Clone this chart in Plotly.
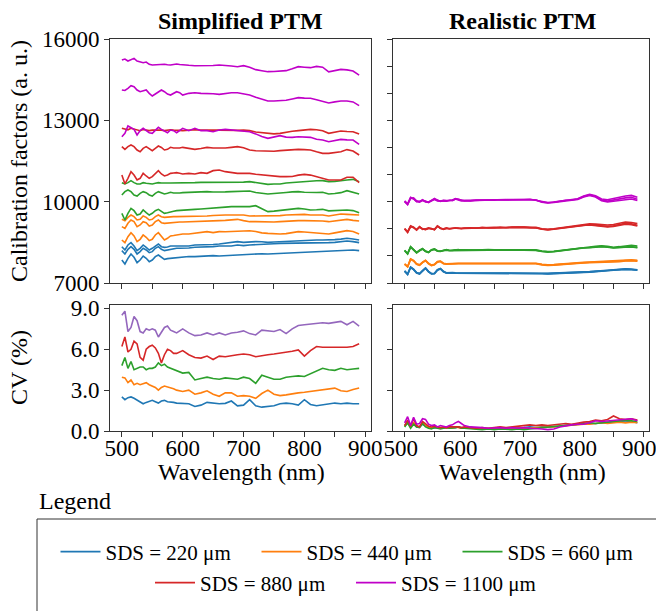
import plotly.graph_objects as go

# ---------------- data ----------------
wavelength = [500, 505, 510, 515, 520, 525, 530, 535, 540, 545, 550, 555, 560, 565, 570, 575, 580, 585, 590, 595, 600,
              610, 620, 630, 640, 650, 660, 670, 680, 690,
              700, 710, 720, 730, 740, 750, 760, 770, 780, 790, 800, 810, 820, 830, 840, 850, 860, 870, 880, 890]

sds_labels = ["SDS = 220 \u03bcm", "SDS = 440 \u03bcm", "SDS = 660 \u03bcm", "SDS = 880 \u03bcm", "SDS = 1100 \u03bcm"]

# Simplified PTM calibration factors (3 curves per SDS)
simp_220_a = [8340, 8217, 8402, 8488, 8365, 8193, 8279, 8402, 8316, 8217, 8279, 8365, 8439, 8340, 8316, 8330, 8365, 8365, 8365, 8370, 8365,
              8365, 8402, 8402, 8402, 8420, 8439, 8460, 8488, 8525,
              8500, 8525, 8525, 8520, 8500, 8510, 8525, 8540, 8549, 8549, 8560, 8586, 8586, 8586, 8586, 8600, 8620, 8648, 8625, 8586]
simp_220_b = [8193, 8070, 8242, 8340, 8242, 8070, 8156, 8279, 8217, 8119, 8156, 8279, 8340, 8242, 8193, 8217, 8242, 8255, 8279, 8279, 8279,
              8290, 8316, 8320, 8340, 8340, 8365, 8365, 8365, 8402,
              8377, 8402, 8420, 8430, 8439, 8450, 8463, 8463, 8463, 8463, 8470, 8488, 8488, 8488, 8488, 8500, 8525, 8549, 8525, 8488]
simp_220_c = [7848, 7701, 7910, 8070, 7947, 7750, 7848, 7996, 7910, 7787, 7848, 7972, 8033, 7947, 7873, 7900, 7910, 7930, 7947, 7960, 7972,
              7980, 7972, 7990, 7996, 8010, 7996, 8010, 8020, 8033,
              8057, 8070, 8070, 8080, 8070, 8080, 8094, 8110, 8119, 8130, 8140, 8156, 8156, 8160, 8168, 8180, 8193, 8200, 8217, 8193]
simp_440_a = [9348, 9299, 9422, 9508, 9447, 9324, 9348, 9472, 9422, 9324, 9348, 9447, 9508, 9447, 9422, 9435, 9447, 9447, 9447, 9447, 9460,
              9460, 9472, 9472, 9472, 9490, 9508, 9508, 9508, 9520,
              9508, 9472, 9472, 9472, 9472, 9484, 9484, 9508, 9520, 9533, 9533, 9508, 9508, 9508, 9472, 9520, 9545, 9533, 9520, 9508]
simp_440_b = [9078, 9016, 9201, 9324, 9262, 9078, 9140, 9262, 9225, 9103, 9140, 9262, 9324, 9225, 9201, 9215, 9225, 9238, 9250, 9250, 9250,
              9255, 9262, 9262, 9262, 9275, 9299, 9310, 9324, 9348,
              9300, 9262, 9262, 9250, 9238, 9250, 9262, 9280, 9290, 9299, 9299, 9299, 9290, 9287, 9262, 9290, 9320, 9348, 9310, 9287]
simp_440_c = [8586, 8488, 8709, 8857, 8734, 8525, 8611, 8771, 8685, 8562, 8611, 8771, 8857, 8734, 8586, 8648, 8734, 8750, 8771, 8790, 8808,
              8808, 8832, 8857, 8894, 8857, 8894, 8890, 8894, 8918,
              8910, 8930, 8900, 8850, 8832, 8810, 8807, 8820, 8850, 8894, 8880, 8860, 8840, 8820, 8807, 8850, 8894, 8930, 8900, 8807]
simp_660_a = [10701, 10652, 10701, 10775, 10701, 10652, 10652, 10701, 10680, 10652, 10652, 10680, 10701, 10690, 10680, 10690, 10690, 10690, 10680, 10690, 10690,
              10690, 10701, 10710, 10713, 10700, 10701, 10700, 10705, 10701,
              10720, 10738, 10700, 10660, 10639, 10650, 10652, 10690, 10710, 10738, 10750, 10762, 10770, 10775, 10740, 10750, 10762, 10800, 10824, 10738]
simp_660_b = [10246, 10369, 10430, 10369, 10246, 10209, 10308, 10369, 10333, 10246, 10209, 10308, 10369, 10333, 10283, 10308, 10345, 10320, 10308, 10320, 10333,
              10345, 10369, 10360, 10369, 10355, 10345, 10360, 10369, 10369,
              10369, 10394, 10340, 10300, 10283, 10300, 10308, 10340, 10360, 10369, 10350, 10333, 10340, 10345, 10283, 10300, 10333, 10406, 10345, 10283]
simp_660_c = [9570, 9324, 9570, 9754, 9668, 9508, 9545, 9693, 9594, 9508, 9570, 9668, 9717, 9631, 9570, 9594, 9631, 9650, 9668, 9680, 9693,
              9700, 9717, 9730, 9754, 9770, 9791, 9800, 9816, 9816,
              9800, 9816, 9852, 9750, 9631, 9650, 9680, 9700, 9730, 9754, 9730, 9693, 9700, 9717, 9660, 9680, 9693, 9693, 9670, 9594]
simp_880_a = [12705, 12668, 12650, 12705, 12668, 12643, 12619, 12660, 12643, 12619, 12640, 12643, 12660, 12640, 12619, 12643, 12650, 12640, 12643, 12630, 12619,
              12640, 12650, 12640, 12630, 12640, 12640, 12630, 12619, 12630,
              12640, 12619, 12570, 12545, 12500, 12500, 12520, 12570, 12600, 12620, 12640, 12668, 12650, 12619, 12520, 12560, 12607, 12590, 12582, 12496]
simp_880_b = [12029, 11930, 12029, 12090, 12029, 11906, 11844, 11967, 12029, 11970, 11881, 11967, 12053, 12000, 11906, 11930, 12004, 11980, 11967, 11980, 12004,
              11980, 11930, 11960, 12004, 11980, 11967, 11980, 12004, 12029,
              11990, 11906, 11880, 11869, 11844, 11860, 11881, 11906, 11920, 11930, 11920, 11906, 11840, 11783, 11783, 11810, 11844, 11920, 11870, 11721]
simp_880_c = [10984, 10652, 10861, 11107, 10984, 10799, 10861, 11045, 10947, 10861, 10922, 11045, 11144, 11021, 10947, 10984, 11045, 11060, 11070, 11050, 11021,
              11045, 11021, 11070, 11045, 11144, 11168, 11107, 11070, 11045,
              11045, 11045, 11010, 10984, 10947, 10930, 10922, 10922, 10930, 10980, 11008, 10980, 10920, 10880, 10799, 10799, 10799, 10900, 10900, 10701]
simp_1100_a = [15225, 15262, 15188, 15250, 15287, 15188, 15164, 15127, 15151, 15066, 15041, 15050, 15041, 15060, 15066, 15050, 15041, 15060, 15078, 15060, 15041,
               15030, 15016, 15010, 15004, 15020, 15041, 15030, 15004, 14979,
               15016, 14955, 14870, 14830, 14795, 14800, 14820, 14832, 14900, 14980, 14960, 14943, 14990, 14960, 14790, 14830, 14880, 14860, 14820, 14670]
simp_1100_b = [14119, 14100, 14180, 14279, 14242, 14119, 14057, 14094, 14119, 13996, 13897, 13971, 14057, 14119, 14057, 13971, 13934, 13990, 14057, 14020, 13934,
               13996, 14020, 13996, 13996, 13980, 13959, 13990, 14020, 14020,
               13990, 13935, 13850, 13775, 13713, 13713, 13713, 13740, 13790, 13836, 13820, 13812, 13760, 13688, 13640, 13680, 13713, 13713, 13680, 13541]
simp_1100_c = [12397, 12520, 12791, 12742, 12668, 12459, 12619, 12705, 12640, 12545, 12520, 12619, 12742, 12668, 12590, 12545, 12643, 12619, 12545, 12643, 12705,
               12619, 12705, 12619, 12619, 12582, 12643, 12668, 12643, 12619,
               12610, 12582, 12500, 12400, 12336, 12380, 12434, 12380, 12370, 12397, 12385, 12373, 12300, 12274, 12213, 12260, 12299, 12280, 12274, 12115]

# Realistic PTM calibration factors (3 curves per SDS)
real_220_a = [7450, 7330, 7590, 7510, 7390, 7350, 7460, 7560, 7430, 7350, 7360, 7490, 7540, 7430, 7380, 7390, 7390, 7380, 7380, 7385, 7380,
              7380, 7370, 7380, 7370, 7370, 7370, 7365, 7370, 7365,
              7360, 7360, 7360, 7360, 7355, 7360, 7370, 7380, 7390, 7400, 7410, 7420, 7430, 7450, 7470, 7490, 7510, 7520, 7510, 7490]
real_220_b = [7430, 7310, 7570, 7490, 7370, 7330, 7440, 7540, 7410, 7330, 7340, 7470, 7520, 7410, 7360, 7370, 7370, 7360, 7360, 7365, 7360,
              7360, 7350, 7360, 7350, 7350, 7350, 7345, 7350, 7345,
              7340, 7340, 7340, 7340, 7335, 7340, 7350, 7360, 7370, 7380, 7390, 7400, 7410, 7430, 7450, 7470, 7490, 7500, 7490, 7470]
real_220_c = [7440, 7320, 7580, 7500, 7380, 7340, 7450, 7550, 7420, 7340, 7350, 7480, 7530, 7420, 7370, 7380, 7380, 7370, 7370, 7375, 7370,
              7370, 7360, 7370, 7360, 7360, 7360, 7355, 7360, 7355,
              7350, 7350, 7350, 7350, 7345, 7350, 7360, 7370, 7380, 7390, 7400, 7410, 7420, 7440, 7460, 7480, 7500, 7510, 7500, 7480]
real_440_a = [7710, 7610, 7890, 7830, 7710, 7670, 7770, 7840, 7730, 7660, 7690, 7790, 7810, 7730, 7710, 7720, 7730, 7730, 7730, 7730, 7730,
              7730, 7735, 7730, 7735, 7740, 7740, 7740, 7745, 7745,
              7750, 7745, 7730, 7690, 7670, 7680, 7700, 7720, 7740, 7750, 7760, 7770, 7780, 7790, 7800, 7810, 7830, 7850, 7860, 7840]
real_440_b = [7690, 7590, 7870, 7810, 7690, 7650, 7750, 7820, 7710, 7640, 7670, 7770, 7790, 7710, 7690, 7700, 7710, 7710, 7710, 7710, 7710,
              7710, 7715, 7710, 7715, 7720, 7720, 7720, 7725, 7725,
              7730, 7725, 7710, 7670, 7650, 7660, 7680, 7700, 7720, 7730, 7740, 7745, 7750, 7760, 7770, 7780, 7790, 7810, 7820, 7800]
real_440_c = [7700, 7600, 7880, 7820, 7700, 7660, 7760, 7830, 7720, 7650, 7680, 7780, 7800, 7720, 7700, 7710, 7720, 7720, 7720, 7720, 7720,
              7720, 7725, 7720, 7725, 7730, 7730, 7730, 7735, 7735,
              7740, 7735, 7720, 7680, 7660, 7670, 7690, 7710, 7730, 7745, 7755, 7765, 7770, 7775, 7785, 7795, 7805, 7825, 7835, 7815]
real_660_a = [8210, 8080, 8340, 8240, 8120, 8210, 8270, 8170, 8130, 8230, 8260, 8180, 8170, 8210, 8220, 8200, 8210, 8210, 8230, 8210, 8220,
              8210, 8220, 8220, 8230, 8220, 8220, 8230, 8230, 8230,
              8240, 8230, 8220, 8180, 8160, 8170, 8200, 8230, 8260, 8290, 8310, 8330, 8350, 8370, 8350, 8320, 8340, 8370, 8390, 8360]
real_660_b = [8190, 8070, 8320, 8220, 8110, 8190, 8250, 8160, 8120, 8210, 8240, 8170, 8160, 8190, 8210, 8190, 8190, 8200, 8210, 8200, 8200,
              8200, 8200, 8210, 8210, 8220, 8210, 8210, 8220, 8220,
              8220, 8220, 8200, 8160, 8140, 8150, 8180, 8210, 8240, 8270, 8290, 8300, 8320, 8340, 8320, 8290, 8310, 8330, 8340, 8310]
real_660_c = [8200, 8090, 8330, 8230, 8130, 8200, 8260, 8180, 8140, 8220, 8250, 8190, 8180, 8200, 8230, 8210, 8200, 8220, 8220, 8220, 8210,
              8220, 8210, 8215, 8220, 8230, 8220, 8220, 8225, 8230,
              8230, 8225, 8210, 8170, 8150, 8160, 8190, 8220, 8250, 8280, 8300, 8310, 8330, 8350, 8330, 8300, 8310, 8320, 8330, 8300]
real_880_a = [9010, 8880, 9110, 9060, 8960, 9080, 8990, 8980, 9030, 9000, 8970, 9110, 9020, 8990, 9030, 9000, 9010, 9040, 9020, 9010, 9030,
              9030, 9040, 9040, 9050, 9040, 9060, 9040, 9060, 9060,
              9070, 9060, 9050, 9000, 8980, 9000, 9030, 9070, 9100, 9140, 9170, 9180, 9170, 9150, 9140, 9160, 9210, 9250, 9230, 9190]
real_880_b = [8990, 8860, 9080, 9040, 8970, 9060, 9000, 8970, 9010, 9010, 8960, 9090, 9030, 8980, 9010, 9010, 9000, 9020, 9030, 9000, 9010,
              9020, 9030, 9030, 9040, 9050, 9040, 9050, 9040, 9060,
              9050, 9050, 9030, 8990, 8960, 8980, 9010, 9040, 9070, 9110, 9140, 9150, 9130, 9100, 9090, 9110, 9160, 9200, 9180, 9130]
real_880_c = [9000, 8890, 9090, 9050, 8950, 9070, 8980, 8990, 9020, 8990, 8980, 9100, 9010, 9000, 9020, 8990, 9020, 9030, 9010, 9020, 9020,
              9040, 9020, 9050, 9030, 9040, 9050, 9040, 9050, 9050,
              9060, 9040, 9040, 8980, 8970, 8990, 9020, 9050, 9070, 9100, 9130, 9140, 9120, 9080, 9070, 9090, 9130, 9170, 9150, 9100]
real_1100_a = [10030, 9920, 10160, 10110, 10010, 10000, 10070, 10000, 9980, 10060, 10120, 10040, 10020, 10050, 10030, 10040, 10060, 10110, 10080, 10040, 10030,
               10040, 10050, 10060, 10070, 10060, 10070, 10080, 10070, 10080,
               10090, 10080, 10060, 9990, 9960, 9990, 10030, 10040, 10070, 10110, 10210, 10270, 10220, 10100, 10070, 10120, 10170, 10210, 10230, 10160]
real_1100_b = [10000, 9890, 10120, 10140, 10030, 9980, 10040, 10020, 9970, 10040, 10100, 10060, 10010, 10040, 10040, 10030, 10050, 10090, 10090, 10050, 10040,
               10030, 10060, 10050, 10060, 10070, 10060, 10070, 10080, 10070,
               10080, 10090, 10050, 10000, 9970, 9980, 10020, 10050, 10060, 10100, 10190, 10250, 10190, 10060, 10020, 10060, 10110, 10140, 10160, 10090]
real_1100_c = [10010, 9900, 10140, 10100, 10000, 10010, 10060, 9990, 9990, 10050, 10080, 10030, 10030, 10030, 10020, 10050, 10040, 10100, 10070, 10030, 10040,
               10050, 10040, 10060, 10060, 10050, 10070, 10060, 10070, 10080,
               10070, 10070, 10060, 9980, 9950, 9970, 10010, 10030, 10050, 10080, 10170, 10230, 10170, 10030, 9990, 10020, 10050, 10080, 10100, 10040]

# Coefficient of variation (%)
cv_simp_220 = [2.5, 2.3, 2.45, 2.5, 2.4, 2.25, 2.1, 2.0, 2.1, 2.2, 2.25, 2.15, 2.05, 2.2, 2.25, 2.15, 2.15, 2.1, 2.05, 2.05, 2.03,
               2.0, 1.8, 1.9, 2.1, 2.03, 2.0, 2.03, 2.2, 1.85,
               1.9, 2.3, 1.85, 1.75, 1.8, 1.85, 2.0, 2.05, 2.0, 1.9, 2.3, 1.95, 1.85, 1.9, 2.0, 2.05, 2.0, 2.05, 2.0, 2.0]
cv_simp_440 = [3.95, 3.9, 3.55, 3.74, 3.4, 3.5, 3.4, 3.5, 3.55, 3.4, 3.3, 3.2, 3.0, 3.2, 3.3, 3.25, 3.2, 3.1, 3.0, 2.95, 2.9,
               3.0, 2.7, 2.8, 2.95, 2.7, 2.55, 2.8, 2.8, 2.55,
               2.6, 2.55, 2.4, 2.75, 3.0, 2.7, 2.6, 2.65, 2.75, 2.8, 2.85, 2.9, 2.95, 3.05, 3.1, 3.15, 2.95, 2.9, 3.05, 3.15]
cv_simp_660 = [4.8, 5.4, 4.6, 5.1, 4.5, 4.6, 4.7, 4.7, 4.5, 4.6, 4.6, 4.7, 5.0, 4.8, 4.9, 4.7, 4.6, 4.5, 4.45, 4.3, 4.25,
               4.3, 3.75, 3.85, 3.95, 3.85, 3.8, 3.9, 3.85, 3.8,
               3.95, 3.85, 3.5, 4.1, 3.95, 3.8, 3.8, 3.95, 4.0, 4.05, 4.0, 4.2, 4.4, 4.6, 4.5, 4.45, 4.6, 4.5, 4.55, 4.6]
cv_simp_880 = [6.2, 6.9, 5.8, 6.0, 6.6, 6.4, 5.4, 5.2, 6.0, 6.2, 6.3, 6.1, 5.7, 5.0, 5.6, 6.0, 5.9, 5.7, 5.7, 5.8, 5.9,
               5.6, 5.4, 5.35, 5.5, 5.25, 5.5, 5.45, 5.55, 5.6,
               5.65, 5.6, 5.45, 5.55, 5.6, 5.65, 5.7, 5.75, 5.85, 5.95, 5.5, 5.9, 6.2, 6.15, 6.15, 6.1, 6.15, 6.15, 6.2, 6.4]
cv_simp_1100 = [8.5, 8.8, 7.3, 7.6, 8.4, 8.1, 7.3, 7.2, 7.5, 7.4, 7.5, 7.4, 6.9, 7.3, 7.6, 7.7, 7.4, 7.3, 7.2, 7.35, 7.5,
                7.2, 7.0, 7.05, 7.2, 7.05, 7.2, 7.05, 7.2, 7.25,
                7.35, 7.15, 7.05, 7.4, 7.35, 7.3, 7.45, 7.15, 7.5, 7.75, 7.8, 7.85, 7.95, 7.95, 7.9, 8.0, 8.05, 7.8, 8.05, 7.7]

cv_real_220 = [0.4, 0.65, 0.35, 0.55, 0.3, 0.3, 0.5, 0.35, 0.25, 0.2, 0.25, 0.25, 0.2, 0.2, 0.25, 0.2, 0.25, 0.25, 0.3, 0.25, 0.2,
               0.25, 0.2, 0.2, 0.15, 0.2, 0.2, 0.25, 0.2, 0.2,
               0.25, 0.3, 0.25, 0.3, 0.3, 0.35, 0.35, 0.4, 0.45, 0.45, 0.5, 0.55, 0.55, 0.6, 0.6, 0.65, 0.7, 0.65, 0.7, 0.6]
cv_real_440 = [0.35, 0.7, 0.3, 0.6, 0.35, 0.3, 0.6, 0.4, 0.3, 0.25, 0.3, 0.25, 0.2, 0.25, 0.2, 0.25, 0.2, 0.3, 0.25, 0.2, 0.25,
               0.2, 0.2, 0.15, 0.2, 0.15, 0.2, 0.15, 0.2, 0.2,
               0.15, 0.2, 0.25, 0.25, 0.3, 0.3, 0.35, 0.4, 0.4, 0.45, 0.5, 0.5, 0.55, 0.6, 0.55, 0.6, 0.65, 0.6, 0.65, 0.6]
cv_real_660 = [0.3, 0.6, 0.2, 0.5, 0.3, 0.25, 0.55, 0.3, 0.2, 0.15, 0.25, 0.2, 0.15, 0.2, 0.25, 0.2, 0.2, 0.25, 0.3, 0.2, 0.2,
               0.15, 0.15, 0.1, 0.15, 0.1, 0.15, 0.1, 0.1, 0.15,
               0.1, 0.15, 0.2, 0.2, 0.25, 0.3, 0.35, 0.4, 0.45, 0.5, 0.55, 0.6, 0.55, 0.6, 0.65, 0.7, 0.75, 0.8, 0.75, 0.7]
cv_real_880 = [0.4, 0.8, 0.35, 0.9, 0.4, 0.3, 0.7, 0.5, 0.35, 0.3, 0.35, 0.3, 0.25, 0.3, 0.25, 0.3, 0.3, 0.35, 0.3, 0.25, 0.3,
               0.25, 0.2, 0.25, 0.2, 0.25, 0.3, 0.25, 0.3, 0.35,
               0.35, 0.45, 0.4, 0.45, 0.4, 0.45, 0.5, 0.55, 0.5, 0.6, 0.65, 0.7, 0.8, 0.75, 0.85, 1.1, 0.9, 0.85, 0.9, 0.8]
cv_real_1100 = [0.6, 1.05, 0.4, 1.0, 0.5, 0.55, 0.9, 0.85, 0.5, 0.4, 0.45, 0.3, 0.4, 0.35, 0.3, 0.4, 0.45, 0.6, 0.7, 0.55, 0.4,
                0.3, 0.3, 0.25, 0.2, 0.25, 0.25, 0.2, 0.25, 0.2,
                0.25, 0.2, 0.2, 0.15, 0.1, 0.15, 0.3, 0.4, 0.45, 0.5, 0.5, 0.6, 0.75, 0.7, 0.75, 0.8, 0.85, 0.85, 0.9, 0.75]

cal_ticks = [7000, 8000, 9000, 10000, 11000, 12000, 13000, 14000, 15000, 16000]
cal_label_ticks = [7000, 10000, 13000, 16000]
cal_ticklabels = ["7000", "10000", "13000", "16000"]
cv_ticks = [0, 3, 6, 9]
cv_ticklabels = ["0.0", "3.0", "6.0", "9.0"]
wl_ticks = [500, 550, 600, 650, 700, 750, 800, 850, 900]
wl_ticklabels = ["500", "", "600", "", "700", "", "800", "", "900"]

# ---------------- style ----------------
FONT = "Liberation Serif"
C_BLUE, C_ORANGE, C_GREEN, C_RED = "#1f77b4", "#ff7f0e", "#2ca02c", "#d62728"
C_MAG, C_PURPLE = "#c000c8", "#9467bd"
W, H = 656, 611
LW = 1.6

def px_x(p):
    return p / W

def px_y(p):
    return 1 - p / H

fig = go.Figure()

def add(x, y, color, xa, ya, name=None, legend=None):
    fig.add_trace(go.Scatter(
        x=x, y=y, mode="lines", line=dict(color=color, width=LW),
        xaxis=xa, yaxis=ya, name=name if name else "",
        showlegend=name is not None, legend=legend if legend else "legend",
        hoverinfo="skip"))

simp_groups = [
    (C_BLUE, [simp_220_a, simp_220_b, simp_220_c]),
    (C_ORANGE, [simp_440_a, simp_440_b, simp_440_c]),
    (C_GREEN, [simp_660_a, simp_660_b, simp_660_c]),
    (C_RED, [simp_880_a, simp_880_b, simp_880_c]),
    (C_MAG, [simp_1100_a, simp_1100_b, simp_1100_c]),
]
legend_ids = ["legend", "legend", "legend", "legend2", "legend2"]
for i, (col, series) in enumerate(simp_groups):
    for j, s in enumerate(series):
        if j == 0:
            add(wavelength, s, col, "x", "y", name=sds_labels[i], legend=legend_ids[i])
        else:
            add(wavelength, s, col, "x", "y")

real_groups = [
    (C_BLUE, [real_220_a, real_220_b, real_220_c]),
    (C_ORANGE, [real_440_a, real_440_b, real_440_c]),
    (C_GREEN, [real_660_a, real_660_b, real_660_c]),
    (C_RED, [real_880_a, real_880_b, real_880_c]),
    (C_MAG, [real_1100_a, real_1100_b, real_1100_c]),
]
for col, series in real_groups:
    for s in series:
        add(wavelength, s, col, "x2", "y2")

for col, s in [(C_BLUE, cv_simp_220), (C_ORANGE, cv_simp_440), (C_GREEN, cv_simp_660),
               (C_RED, cv_simp_880), (C_PURPLE, cv_simp_1100)]:
    add(wavelength, s, col, "x3", "y3")

for col, s in [(C_BLUE, cv_real_220), (C_ORANGE, cv_real_440), (C_GREEN, cv_real_660),
               (C_RED, cv_real_880), (C_MAG, cv_real_1100)]:
    add(wavelength, s, col, "x4", "y4")

LINEC = "#333333"
common = dict(showline=True, mirror=True, linecolor=LINEC, linewidth=1, ticks="outside",
              ticklen=5, tickcolor=LINEC, tickwidth=1, showgrid=False, zeroline=False,
              automargin=False, ticklabeloverflow="allow",
              tickfont=dict(family=FONT, size=23, color="black"))

xl = [px_x(110), px_x(371)]
xr = [px_x(393), px_x(649)]
yt = [px_y(283), px_y(39)]
yb = [px_y(431), px_y(305)]
xrange_ = [480.5, 909.5]

legend_common = dict(orientation="h", xanchor="center", yanchor="middle",
                     font=dict(family=FONT, size=21, color="black"), bgcolor="rgba(0,0,0,0)",
                     entrywidth=146, entrywidthmode="pixels", itemwidth=40)

fig.update_layout(
    width=W, height=H, margin=dict(l=0, r=0, t=0, b=0, autoexpand=False),
    paper_bgcolor="white", plot_bgcolor="white",
    font=dict(family=FONT, color="black"),
    xaxis=dict(domain=xl, anchor="y", range=xrange_, tickvals=wl_ticks,
               ticktext=[""] * len(wl_ticks), **common),
    yaxis=dict(domain=yt, anchor="x", range=[7000, 16000], tickvals=cal_label_ticks,
               ticktext=cal_ticklabels, **common),
    xaxis2=dict(domain=xr, anchor="y2", range=xrange_, tickvals=wl_ticks,
                ticktext=[""] * len(wl_ticks), **common),
    yaxis2=dict(domain=yt, anchor="x2", range=[7000, 16000], tickvals=cal_ticks,
                ticktext=[""] * len(cal_ticks), **common),
    xaxis3=dict(domain=xl, anchor="y3", range=xrange_, tickvals=wl_ticks,
                ticktext=wl_ticklabels, ticklabelstandoff=-9, **common),
    yaxis3=dict(domain=yb, anchor="x3", range=[0, 9.25], tickvals=cv_ticks,
                ticktext=cv_ticklabels, **common),
    xaxis4=dict(domain=xr, anchor="y4", range=xrange_, tickvals=wl_ticks,
                ticktext=wl_ticklabels, ticklabelstandoff=-9, ticklabelshift=-4, **common),
    yaxis4=dict(domain=yb, anchor="x4", range=[0, 9.25], tickvals=cv_ticks,
                ticktext=[""] * len(cv_ticks), **common),
    legend=dict(x=px_x(357), y=px_y(552), **legend_common),
    legend2=dict(x=px_x(351), y=px_y(583), **legend_common),
    showlegend=True,
)

ann = [
    dict(text="<b>Simplified PTM</b>", x=px_x(240), y=px_y(21), size=24),
    dict(text="<b>Realistic PTM</b>", x=px_x(522), y=px_y(21), size=24),
    dict(text="Calibration factors (a. u.)", x=px_x(19), y=px_y(161), textangle=-90, size=24),
    dict(text="CV (%)", x=px_x(19), y=px_y(368), textangle=-90, size=24),
    dict(text="Wavelength (nm)", x=px_x(241), y=px_y(472), size=24),
    dict(text="Wavelength (nm)", x=px_x(522), y=px_y(472), size=24),
    dict(text="Legend", x=px_x(37), y=px_y(501), xanchor="left", size=24),
]
for a in ann:
    a = dict(a)
    size = a.pop("size")
    a.setdefault("xanchor", "center")
    fig.add_annotation(xref="paper", yref="paper", showarrow=False, yanchor="middle",
                       font=dict(family=FONT, color="black", size=size), **a)

fig.add_shape(type="rect", xref="paper", yref="paper", x0=px_x(37), x1=1.02, y0=-0.02, y1=px_y(519),
              line=dict(color=LINEC, width=1), fillcolor="rgba(0,0,0,0)")

fig.write_html("out.html", config={"displayModeBar": False},
               post_script="document.body.style.margin='0px';document.body.style.overflow='hidden';")
